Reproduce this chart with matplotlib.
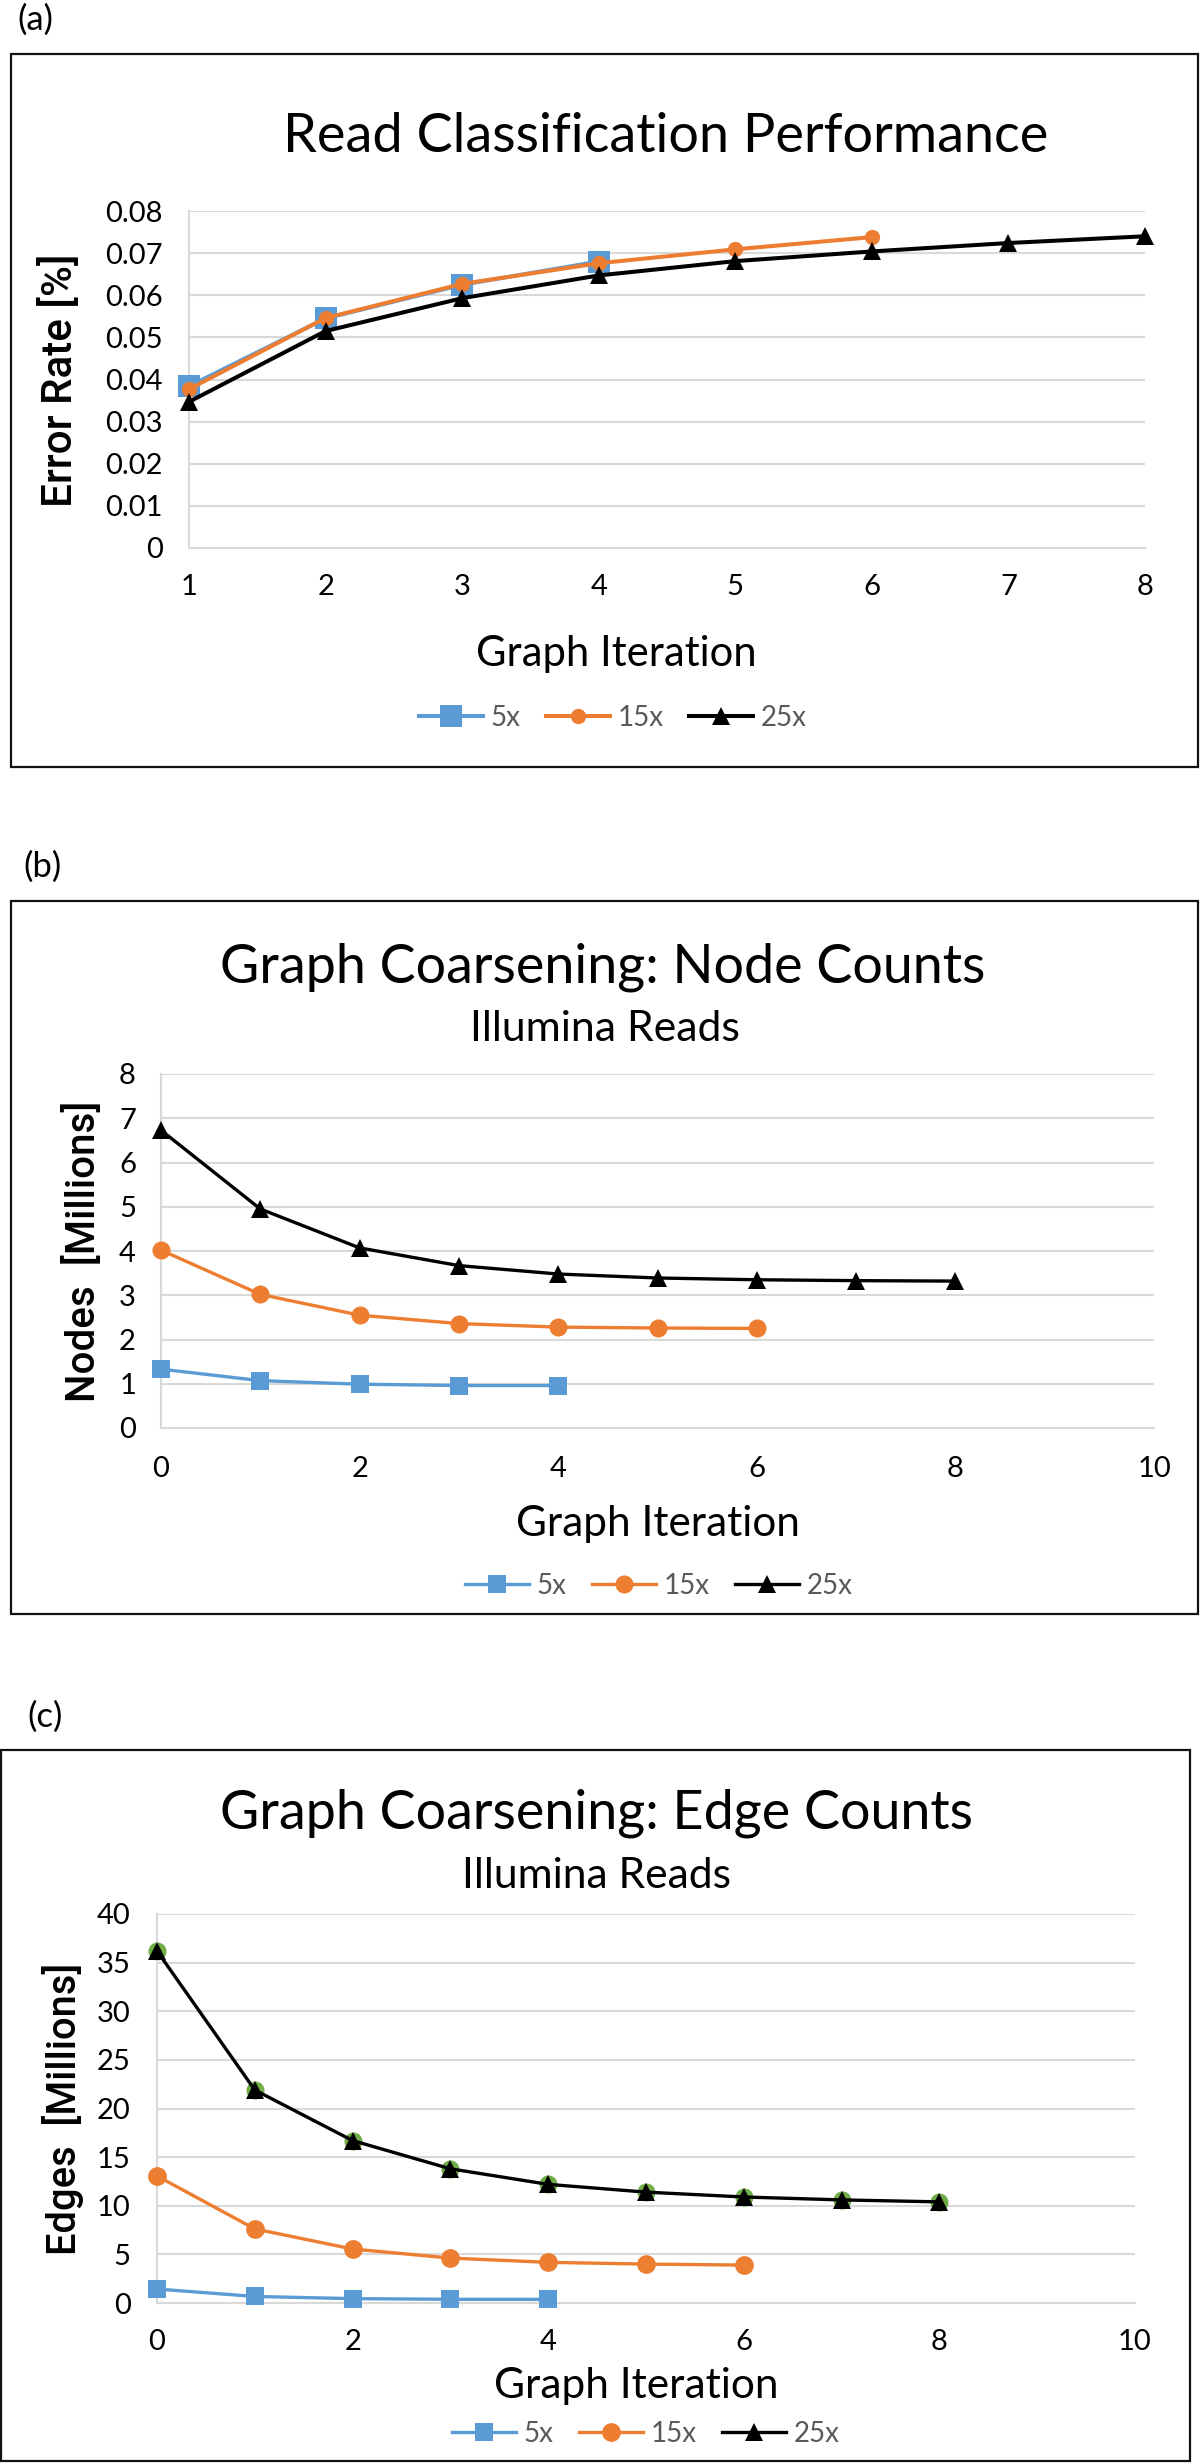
import matplotlib
matplotlib.use('Agg')
import matplotlib.pyplot as plt
from matplotlib.patches import Rectangle
from matplotlib.ticker import FuncFormatter, MultipleLocator

W, H, DPI = 1200, 2464, 100

# ---------------- data ----------------
series_names = ['5x', '15x', '25x']
series_colors = ['#5B9BD5', '#ED7D31', '#000000']
series_markers = ['s', 'o', '^']

# (a) Read Classification Performance
err_iter_5 = [1, 2, 3, 4]
err_iter_15 = [1, 2, 3, 4, 5, 6]
err_iter_25 = [1, 2, 3, 4, 5, 6, 7, 8]
err_5 = [0.0384, 0.0545, 0.0625, 0.0680]
err_15 = [0.0377, 0.0546, 0.0627, 0.0676, 0.0709, 0.0738]
err_25 = [0.0347, 0.0515, 0.0593, 0.0647, 0.0681, 0.0704, 0.0724, 0.0740]

# (b) Node counts (millions)
cnt_iter_5 = [0, 1, 2, 3, 4]
cnt_iter_15 = [0, 1, 2, 3, 4, 5, 6]
cnt_iter_25 = [0, 1, 2, 3, 4, 5, 6, 7, 8]
node_5 = [1.33, 1.07, 0.99, 0.96, 0.96]
node_15 = [4.02, 3.02, 2.55, 2.36, 2.28, 2.26, 2.25]
node_25 = [6.73, 4.95, 4.07, 3.67, 3.48, 3.39, 3.35, 3.33, 3.32]

# (c) Edge counts (millions)
edge_5 = [1.44, 0.67, 0.45, 0.38, 0.37]
edge_15 = [13.06, 7.62, 5.55, 4.62, 4.18, 4.00, 3.90]
edge_25 = [36.2, 21.9, 16.7, 13.8, 12.2, 11.4, 10.9, 10.6, 10.4]

panel_labels = ['(a)', '(b)', '(c)']
titles = ['Read Classification Performance', 'Graph Coarsening: Node Counts',
          'Graph Coarsening: Edge Counts']
subtitle = 'Illumina Reads'
xlabel = 'Graph Iteration'
ylabels = ['Error Rate [%]', 'Nodes  [Millions]', 'Edges  [Millions]']

# ---------------- style ----------------
FONT = 'Lato'
YFONT = 'Roboto'
GRID = '#D9D9D9'
LEG_TXT = '#595959'
TICK_SIZE = 21
LEG_SIZE = 20

fig = plt.figure(figsize=(W / DPI, H / DPI), dpi=DPI)
fig.patch.set_facecolor('white')


def fx(x):
    return x / W


def fy(y):
    return 1 - y / H


def add_ax(l, t, r, b):
    return fig.add_axes([fx(l), fy(b), (r - l) / W, (b - t) / H])


def fit_text(txt, target, vertical=False):
    fig.canvas.draw()
    ext = txt.get_window_extent(renderer=fig.canvas.get_renderer())
    cur = ext.height if vertical else ext.width
    txt.set_fontsize(txt.get_fontsize() * target / cur)


def ftext(x, y, s, size, target=None, vertical=False, family=FONT, ha='center',
          color='black', weight='normal'):
    t = fig.text(fx(x), fy(y), s, fontsize=size, family=family, ha=ha, va='center',
                 rotation=90 if vertical else 0, color=color, fontweight=weight)
    if target:
        fit_text(t, target, vertical)
    return t


def frame(l, t, r, b):
    fig.patches.append(Rectangle((fx(l), fy(b)), (r - l) / W, (b - t) / H,
                                 transform=fig.transFigure, fill=False,
                                 edgecolor='#111111', linewidth=1.6))


def style_ax(ax, xlim, xstep, ylim, ystep, fmt, xpad, ypad):
    ax.set_xlim(*xlim)
    ax.set_ylim(*ylim)
    ax.xaxis.set_major_locator(MultipleLocator(xstep))
    ax.yaxis.set_major_locator(MultipleLocator(ystep))
    ax.yaxis.set_major_formatter(FuncFormatter(fmt))
    ax.grid(axis='y', color=GRID, linewidth=1.5, zorder=0)
    ax.set_axisbelow(True)
    for s in ['top', 'right']:
        ax.spines[s].set_visible(False)
    for s in ['left', 'bottom']:
        ax.spines[s].set_color(GRID)
        ax.spines[s].set_linewidth(1.5)
    ax.tick_params(axis='both', length=0, labelsize=TICK_SIZE)
    ax.tick_params(axis='x', pad=xpad)
    ax.tick_params(axis='y', pad=ypad)
    for lab in ax.get_xticklabels() + ax.get_yticklabels():
        lab.set_family(FONT)
    ax.patch.set_alpha(0)


def plot_series(ax, xs, ys, lw, msizes):
    handles = []
    for x, y, c, m, ms, name in zip(xs, ys, series_colors, series_markers, msizes, series_names):
        h, = ax.plot(x, y, color=c, marker=m, markersize=ms, linewidth=lw,
                     markeredgewidth=0, label=name, clip_on=False, zorder=3)
        handles.append(h)
    return handles


def legend(handles, cx, cy):
    leg = fig.legend(handles=handles, loc='center', bbox_to_anchor=(fx(cx), fy(cy)),
                     ncol=3, frameon=False, prop={'family': FONT, 'size': LEG_SIZE},
                     handlelength=2.3, handletextpad=0.27, columnspacing=0.92,
                     borderaxespad=0, borderpad=0)
    for t in leg.get_texts():
        t.set_color(LEG_TXT)
    return leg


def fmt_a(v, p):
    return '0' if abs(v) < 1e-9 else f'{v:.2f}'


def fmt_int(v, p):
    return f'{v:.0f}'


# ---------------- panel (a) ----------------
frame(11, 54, 1198, 767)
ftext(17, 20, panel_labels[0], 25, ha='left')
ax = add_ax(189, 211, 1145, 548)
style_ax(ax, (1, 8), 1, (0, 0.08), 0.01, fmt_a, 19, 19)
h = plot_series(ax, [err_iter_5, err_iter_15, err_iter_25], [err_5, err_15, err_25],
                2.9, [16, 11, 13.5])
ftext(666, 137, titles[0], 36, target=767)
ftext(60, 380, ylabels[0], 28, target=253, vertical=True, family=YFONT, weight='medium')
ftext(616, 654, xlabel, 27, target=281)
legend(h, 613, 718)

# ---------------- panel (b) ----------------
frame(11, 901, 1198, 1614)
ftext(23, 867, panel_labels[1], 25, ha='left')
ax = add_ax(161, 1074, 1154, 1428)
style_ax(ax, (0, 10), 2, (0, 8), 1, fmt_int, 20, 18)
h = plot_series(ax, [cnt_iter_5, cnt_iter_15, cnt_iter_25], [node_5, node_15, node_25],
                2.4, [13, 13, 13.5])
ftext(603, 967, titles[1], 36, target=767)
ftext(605, 1029, subtitle, 27, target=271)
ftext(83, 1251, ylabels[1], 30, target=301, vertical=True, family=YFONT, weight='medium')
ftext(658, 1524, xlabel, 27, target=284)
legend(h, 659, 1586)

# ---------------- panel (c) ----------------
frame(1, 1750, 1190, 2461)
ftext(27, 1717, panel_labels[2], 25, ha='left')
ax = add_ax(157, 1914, 1135, 2303)
style_ax(ax, (0, 10), 2, (0, 40), 5, fmt_int, 19, 19)
ax.plot(cnt_iter_25, edge_25, linestyle='none', marker='o', markersize=13,
        color='#70AD47', markeredgewidth=0, clip_on=False, zorder=2.5)
h = plot_series(ax, [cnt_iter_5, cnt_iter_15, cnt_iter_25], [edge_5, edge_15, edge_25],
                2.4, [13.5, 13.5, 13.5])
ftext(596, 1813, titles[2], 36, target=755)
ftext(596, 1876, subtitle, 27, target=270)
ftext(63, 2109, ylabels[2], 30, target=292, vertical=True, family=YFONT, weight='medium')
ftext(636, 2386, xlabel, 27, target=285)
legend(h, 646, 2434)

fig.savefig('out.png', dpi=DPI, facecolor='white')
